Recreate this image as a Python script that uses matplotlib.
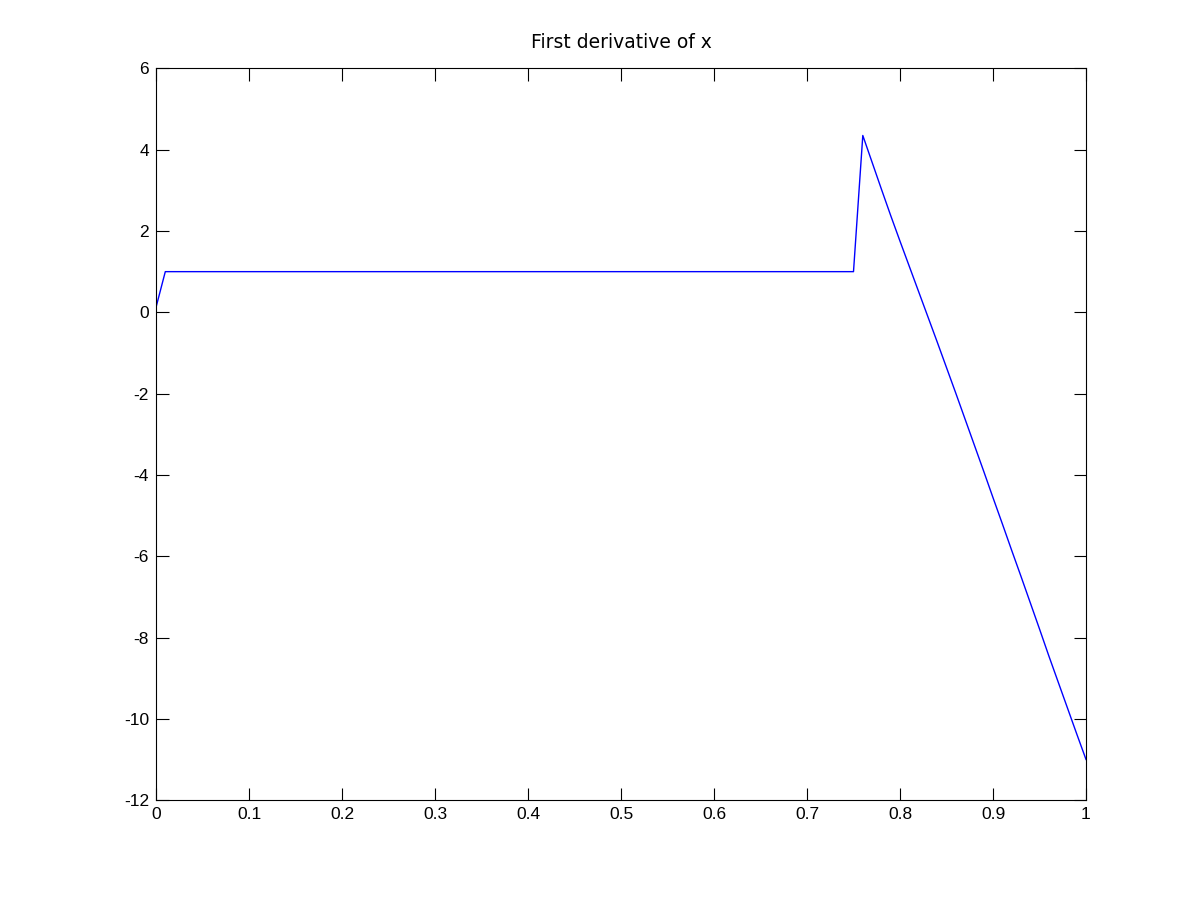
import matplotlib
matplotlib.use("Agg")
import matplotlib.pyplot as plt
import numpy as np

# data (x step 0.01)
x_start = [0.00, 0.01]
y_start = [0.12, 1.00]
plateau_x = [0.75]
plateau_y = [1.00]
descent_x = [0.76, 0.77, 0.78, 0.79, 0.80, 0.81, 0.82, 0.83, 0.84, 0.85, 0.86,
             0.87, 0.88, 0.89, 0.90, 0.91, 0.92, 0.93, 0.94, 0.95, 0.96, 0.97,
             0.98, 0.99, 1.00]
descent_y = [4.35, 3.69, 3.03, 2.38, 1.75, 1.13, 0.51, -0.11, -0.73, -1.36,
             -1.99, -2.63, -3.27, -3.91, -4.56, -5.20, -5.85, -6.49, -7.14,
             -7.79, -8.45, -9.09, -9.73, -10.37, -11.00]

x = np.array(x_start + plateau_x + descent_x)
y = np.array(y_start + plateau_y + descent_y)

xticks = [0, 0.1, 0.2, 0.3, 0.4, 0.5, 0.6, 0.7, 0.8, 0.9, 1]
xticklabels = ["0", "0.1", "0.2", "0.3", "0.4", "0.5", "0.6", "0.7", "0.8", "0.9", "1"]
yticks = [-12, -10, -8, -6, -4, -2, 0, 2, 4, 6]
yticklabels = ["-12", "-10", "-8", "-6", "-4", "-2", "0", "2", "4", "6"]

plt.rcParams['font.family'] = ['Liberation Sans', 'DejaVu Sans']
fig = plt.figure(figsize=(12, 9), dpi=100)
ax = fig.add_axes([0.13, 0.111, 0.775, 0.813])
ax.plot(x, y, color='#0000ff', linewidth=1.0)
ax.set_xlim(0, 1)
ax.set_ylim(-12, 6)
ax.set_xticks(xticks)
ax.set_xticklabels(xticklabels)
ax.set_yticks(yticks)
ax.set_yticklabels(yticklabels)
ax.tick_params(direction='in', length=9, width=0.8, top=True, right=True,
               labelsize=12.5, pad=5)
for s in ax.spines.values():
    s.set_linewidth(0.8)
ax.set_title("First derivative of x", fontsize=13.5, pad=15,
             family=['DejaVu Sans'])
fig.savefig("out.png", dpi=100)
